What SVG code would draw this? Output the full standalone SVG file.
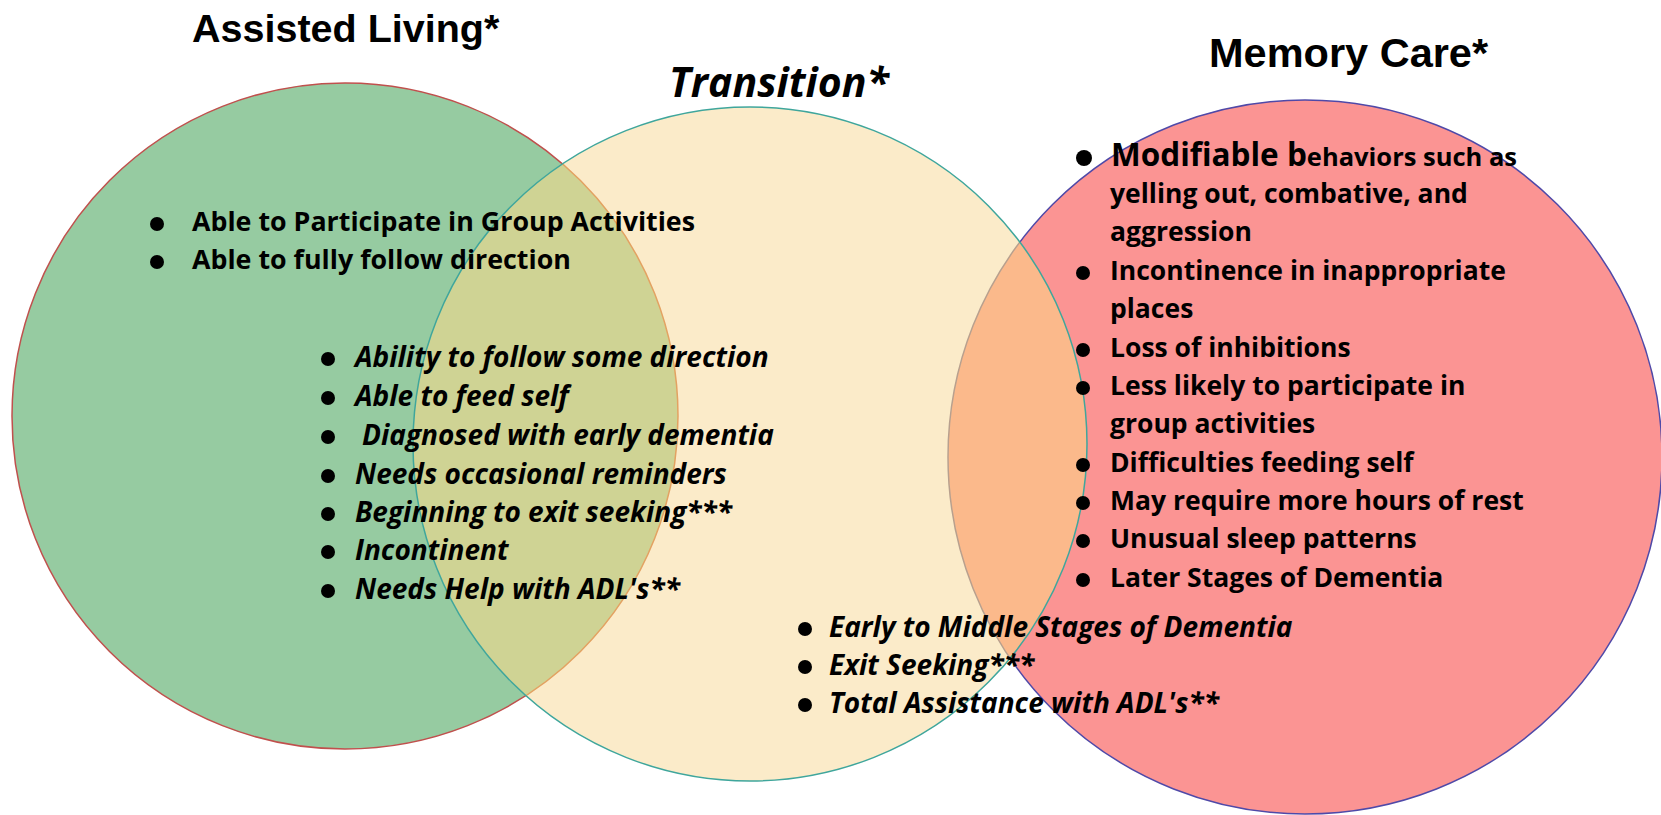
<svg xmlns="http://www.w3.org/2000/svg" width="1661" height="815" viewBox="0 0 1661 815">
<style>
.title{font-family:"Liberation Sans",Arial,sans-serif;font-weight:bold;font-size:39.5px;fill:#000}
.title-m{font-size:41.5px}
.ttl-i{font-family:"Open Sans","Liberation Sans",sans-serif;font-weight:bold;font-style:italic;font-size:41px;fill:#000}
.b{font-family:"Open Sans","Liberation Sans",sans-serif;font-weight:bold;font-size:26.5px;fill:#000}
.b-l{font-size:26.8px}
.bi{font-family:"Open Sans","Liberation Sans",sans-serif;font-weight:bold;font-style:italic;font-size:28px;fill:#000}
.dot{fill:#000}
</style>
<defs>
<clipPath id="clipY"><circle cx="750" cy="444" r="337"/></clipPath>
</defs>
<rect width="1661" height="815" fill="#fff"/>
<g id="circles">
<circle id="green" cx="345" cy="416" r="333" fill="#96CBA1" stroke="#C0504D" stroke-width="1.5"/>
<circle id="red" cx="1305" cy="457" r="357" fill="#FB9493" stroke="#4F49A8" stroke-width="1.5"/>
<circle id="yellow" cx="750" cy="444" r="337" fill="#FBEBC9"/>
<g clip-path="url(#clipY)">
<circle cx="345" cy="416" r="333" fill="#CFD394" stroke="#E3A262" stroke-width="1.5"/>
<circle cx="1305" cy="457" r="357" fill="#FBB98B" stroke="#B8A08E" stroke-width="1.5"/>
</g>
<circle cx="750" cy="444" r="337" fill="none" stroke="#3FA69C" stroke-width="1.5"/>
</g>
<g id="connectors"></g>
<g id="title-assisted"><text class="title" x="192" y="42">Assisted Living*</text></g>
<g id="title-transition"><text class="ttl-i" x="669" y="97">Transition*</text></g>
<g id="title-memory"><text class="title title-m" x="1209" y="67">Memory Care*</text></g>
<g id="list-assisted">
<circle class="dot" cx="157" cy="224" r="7"/><text class="b b-l" x="192" y="231">Able to Participate in Group Activities</text>
<circle class="dot" cx="157" cy="262" r="7"/><text class="b b-l" x="192" y="269">Able to fully follow direction</text>
</g>
<g id="list-transition">
<circle class="dot" cx="328" cy="359" r="7"/><text class="bi" x="355" y="367">Ability to follow some direction</text>
<circle class="dot" cx="328" cy="398" r="7"/><text class="bi" x="355" y="406">Able to feed self</text>
<circle class="dot" cx="328" cy="437" r="7"/><text class="bi" x="362" y="445">Diagnosed with early dementia</text>
<circle class="dot" cx="328" cy="476" r="7"/><text class="bi" x="355" y="484">Needs occasional reminders</text>
<circle class="dot" cx="328" cy="514" r="7"/><text class="bi" x="355" y="522">Beginning to exit seeking***</text>
<circle class="dot" cx="328" cy="552" r="7"/><text class="bi" x="355" y="560">Incontinent</text>
<circle class="dot" cx="328" cy="591" r="7"/><text class="bi" x="355" y="599">Needs Help with ADL's**</text>
</g>
<g id="list-transition-late">
<circle class="dot" cx="805" cy="629" r="7"/><text class="bi" x="829" y="637">Early to Middle Stages of Dementia</text>
<circle class="dot" cx="805" cy="667" r="7"/><text class="bi" x="829" y="675">Exit Seeking***</text>
<circle class="dot" cx="805" cy="705" r="7"/><text class="bi" x="829" y="713">Total Assistance with ADL's**</text>
</g>
<g id="list-memory">
<circle class="dot" cx="1084" cy="158" r="8"/><text class="b" x="1111" y="166"><tspan font-size="31.5">Modifiable b</tspan><tspan font-size="25.5">ehaviors such as</tspan></text>
<text class="b" x="1110" y="203">yelling out, combative, and</text>
<text class="b" x="1110" y="241">aggression</text>
<circle class="dot" cx="1083" cy="273" r="7"/><text class="b" x="1110" y="280">Incontinence in inappropriate</text>
<text class="b" x="1110" y="318">places</text>
<circle class="dot" cx="1083" cy="350" r="7"/><text class="b" x="1110" y="357">Loss of inhibitions</text>
<circle class="dot" cx="1083" cy="388" r="7"/><text class="b" x="1110" y="395">Less likely to participate in</text>
<text class="b" x="1110" y="433">group activities</text>
<circle class="dot" cx="1083" cy="465" r="7"/><text class="b" x="1110" y="472">Difficulties feeding self</text>
<circle class="dot" cx="1083" cy="503" r="7"/><text class="b" x="1110" y="510">May require more hours of rest</text>
<circle class="dot" cx="1083" cy="541" r="7"/><text class="b" x="1110" y="548">Unusual sleep patterns</text>
<circle class="dot" cx="1083" cy="580" r="7"/><text class="b" x="1110" y="587">Later Stages of Dementia</text>
</g>
</svg>
